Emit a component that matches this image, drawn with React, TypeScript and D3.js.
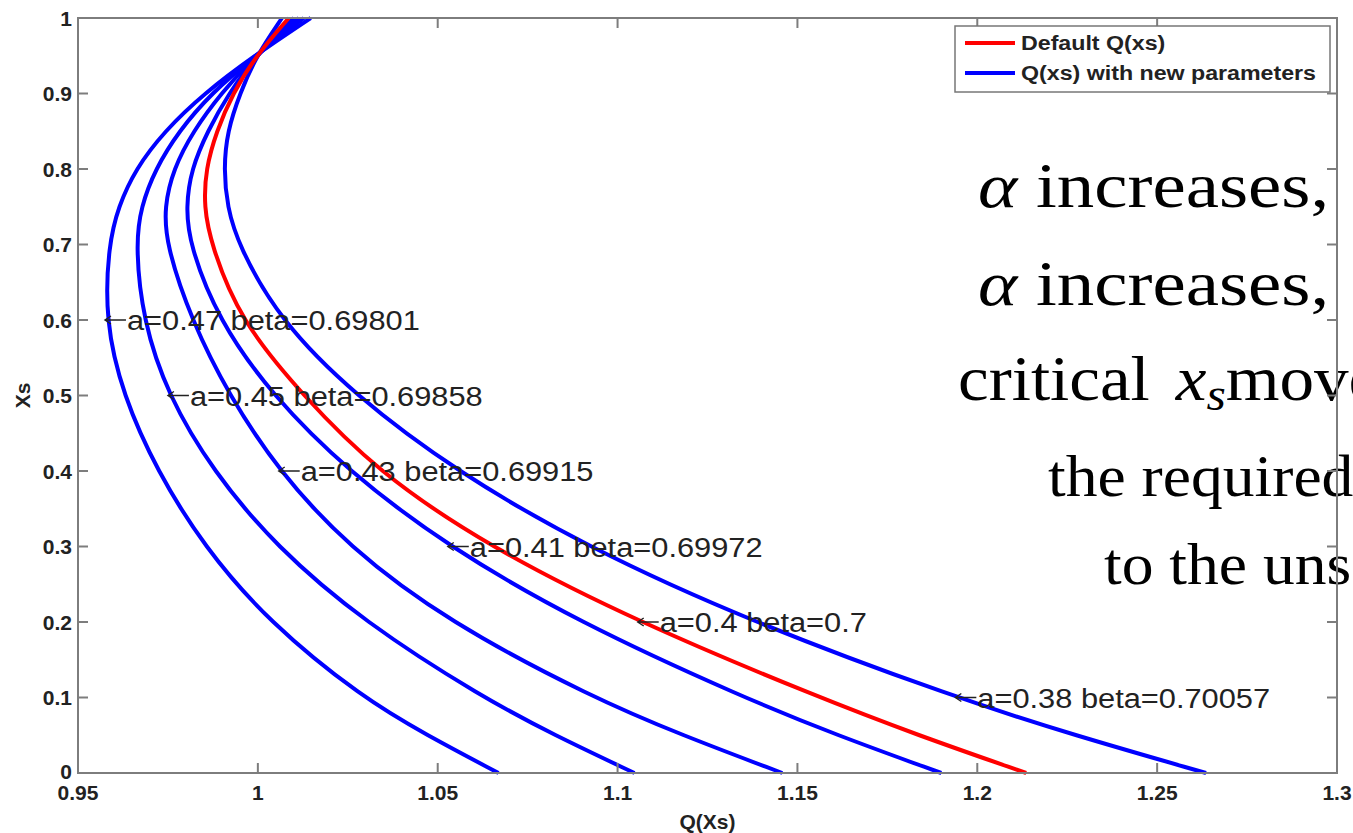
import React from 'react';
import * as d3 from 'd3';

const xsLevels = [0, 0.05, 0.1, 0.2, 0.3, 0.4, 0.5, 0.6, 0.7, 0.75, 0.8, 0.85, 0.9, 0.95, 1];

const qA047 = [1.0669, 1.047, 1.029, 1.003, 0.985, 0.972, 0.9625, 0.9575, 0.9585, 0.9612, 0.966, 0.974, 0.985, 0.999, 1.0147];
const qA045 = [1.1047, 1.0825, 1.0625, 1.0295, 1.005, 0.9875, 0.975, 0.968, 0.966, 0.9675, 0.9715, 0.978, 0.987, 0.9992, 1.0128];
const qA043 = [1.1458, 1.118, 1.093, 1.053, 1.025, 1.0058, 0.992, 0.9815, 0.9745, 0.974, 0.9765, 0.982, 0.9897, 0.9993, 1.0114];
const qA041 = [1.19, 1.161, 1.135, 1.089, 1.0528, 1.025, 1.004, 0.989, 0.981, 0.98, 0.9815, 0.986, 0.9919, 0.9995, 1.01];
const qA040 = [1.2136, 1.1835, 1.156, 1.1056, 1.064, 1.033, 1.0125, 0.995, 0.987, 0.985, 0.9855, 0.9885, 0.993, 0.9995, 1.0086];
const qA038 = [1.2636, 1.227, 1.1939, 1.1372, 1.0911, 1.055, 1.027, 1.006, 0.9945, 0.9915, 0.9905, 0.9915, 0.995, 0.9996, 1.0067];

const aValues = [0.47, 0.45, 0.43, 0.41, 0.4, 0.38];
const betaLabels = ['0.69801', '0.69858', '0.69915', '0.69972', '0.7', '0.70057'];
const labelAtXs = [0.6, 0.5, 0.4, 0.3, 0.2, 0.1];
const qSeries = [qA047, qA045, qA043, qA041, qA040, qA038];
const defaultA = 0.4;

const xTicks = [0.95, 1, 1.05, 1.1, 1.15, 1.2, 1.25, 1.3];
const xTickLabels = ['0.95', '1', '1.05', '1.1', '1.15', '1.2', '1.25', '1.3'];
const yTicks = [0, 0.1, 0.2, 0.3, 0.4, 0.5, 0.6, 0.7, 0.8, 0.9, 1];
const yTickLabels = ['0', '0.1', '0.2', '0.3', '0.4', '0.5', '0.6', '0.7', '0.8', '0.9', '1'];

const legendLabels = ['Default Q(xs)', 'Q(xs) with new parameters'];

const W = 1353;
const H = 833;
const X0 = 78, X1 = 1337, Y0 = 773, Y1 = 18;

const sans = '"Liberation Sans", Arial, Helvetica, sans-serif';
const serif = '"Liberation Serif", "Times New Roman", serif';
const axisGray = '#7d7d7d';

// the source figure is a bit wider than tall, so its text is too
function SText({ x, y, sx, children, ...rest }: any) {
  return (
    <text transform={`translate(${x},${y}) scale(${sx},1)`} {...rest}>
      {children}
    </text>
  );
}

export default function App() {
  const x = d3.scaleLinear().domain([0.95, 1.3]).range([X0, X1]);
  const y = d3.scaleLinear().domain([0, 1]).range([Y0, Y1]);

  // B-spline keeps the hand-read points from showing as kinks
  const line = d3.line<[number, number]>()
    .x((p) => x(p[0]))
    .y((p) => y(p[1]))
    .curve(d3.curveBasis);

  const curves = qSeries.map((q, i) => {
    const pts = xsLevels.map((v, j) => [q[j], v] as [number, number]);
    const idx = xsLevels.indexOf(labelAtXs[i]);
    return {
      d: line(pts) || '',
      isDefault: aValues[i] === defaultA,
      ax: x(q[idx]),
      ay: y(labelAtXs[i]),
      text: `a=${aValues[i]} beta=${betaLabels[i]}`,
    };
  });
  const drawOrder = [...curves].sort((a, b) => Number(a.isDefault) - Number(b.isDefault));

  const tickLen = 10;

  return (
    <svg width={W} height={H} style={{ position: 'absolute', left: 0, top: 0, display: 'block', background: '#fff' }}>
      <rect x={0} y={0} width={W} height={H} fill="#fff" />

      {drawOrder.map((c, i) => (
        <path key={'c' + i} d={c.d} fill="none" stroke={c.isDefault ? '#ff0000' : '#0000ff'} strokeWidth={4} strokeLinejoin="round" />
      ))}

      {curves.map((c, i) => (
        <g key={'a' + i}>
          <path d={`M${c.ax},${c.ay} L${c.ax + 21},${c.ay} M${c.ax + 6},${c.ay - 4} L${c.ax},${c.ay} L${c.ax + 6},${c.ay + 4}`}
            fill="none" stroke="#222" strokeWidth={1.4} />
          <SText x={c.ax + 22} y={c.ay} sx={1.1} dy="0.36em" fontFamily={sans} fontSize={28} fill="#222">{c.text}</SText>
        </g>
      ))}

      <g fontFamily={serif} fill="#000">
        <SText x={978} y={207} sx={1.17} fontSize={64}><tspan fontStyle="italic">α</tspan> increases,</SText>
        <SText x={978} y={305} sx={1.17} fontSize={64}><tspan fontStyle="italic">α</tspan> increases,</SText>
        <SText x={958} y={400} sx={1.08} fontSize={64}>critical <tspan fontStyle="italic" dx={8}>x</tspan><tspan fontStyle="italic" fontSize={46} dy={10}>s</tspan><tspan dy={-10}>move</tspan></SText>
        <SText x={1048} y={496} sx={1.06} fontSize={60}>the required</SText>
        <SText x={1104} y={584} sx={1.06} fontSize={60}>to the uns</SText>
      </g>

      {/* axes box and inward ticks */}
      <g stroke={axisGray} strokeWidth={2} fill="none">
        <rect x={X0} y={Y1} width={X1 - X0} height={Y0 - Y1} />
        {xTicks.map((t) => (
          <g key={'xt' + t}>
            <line x1={x(t)} x2={x(t)} y1={Y0} y2={Y0 - tickLen} />
            <line x1={x(t)} x2={x(t)} y1={Y1} y2={Y1 + tickLen} />
          </g>
        ))}
        {yTicks.map((t) => (
          <g key={'yt' + t}>
            <line x1={X0} x2={X0 + tickLen} y1={y(t)} y2={y(t)} />
            <line x1={X1} x2={X1 - tickLen} y1={y(t)} y2={y(t)} />
          </g>
        ))}
      </g>

      <g fontFamily={sans} fontWeight="bold" fontSize={21} fill="#222">
        {xTicks.map((t, i) => (
          <text key={'xl' + t} x={x(t)} y={Y0 + 27} textAnchor="middle">{xTickLabels[i]}</text>
        ))}
        {yTicks.map((t, i) => (
          <text key={'yl' + t} x={X0 - 6} y={y(t) - (t === 0 ? 2 : 0)} dy="0.36em" textAnchor="end">{yTickLabels[i]}</text>
        ))}
        <text x={(X0 + X1) / 2} y={829} textAnchor="middle">Q(Xs)</text>
        <text transform={`translate(30,${(Y0 + Y1) / 2}) rotate(-90)`} textAnchor="middle">Xs</text>
      </g>

      {/* legend */}
      <g>
        <rect x={955} y={26} width={375} height={66} fill="#fff" stroke="#777" strokeWidth={1.5} />
        {legendLabels.map((l, i) => (
          <g key={'lg' + i}>
            <line x1={965} x2={1015} y1={43 + i * 30} y2={43 + i * 30} stroke={i === 0 ? '#ff0000' : '#0000ff'} strokeWidth={4} />
            <SText x={1021} y={43 + i * 30} sx={1.16} dy="0.36em" fontFamily={sans} fontWeight="bold" fontSize={20} fill="#222">{l}</SText>
          </g>
        ))}
      </g>
    </svg>
  );
}
